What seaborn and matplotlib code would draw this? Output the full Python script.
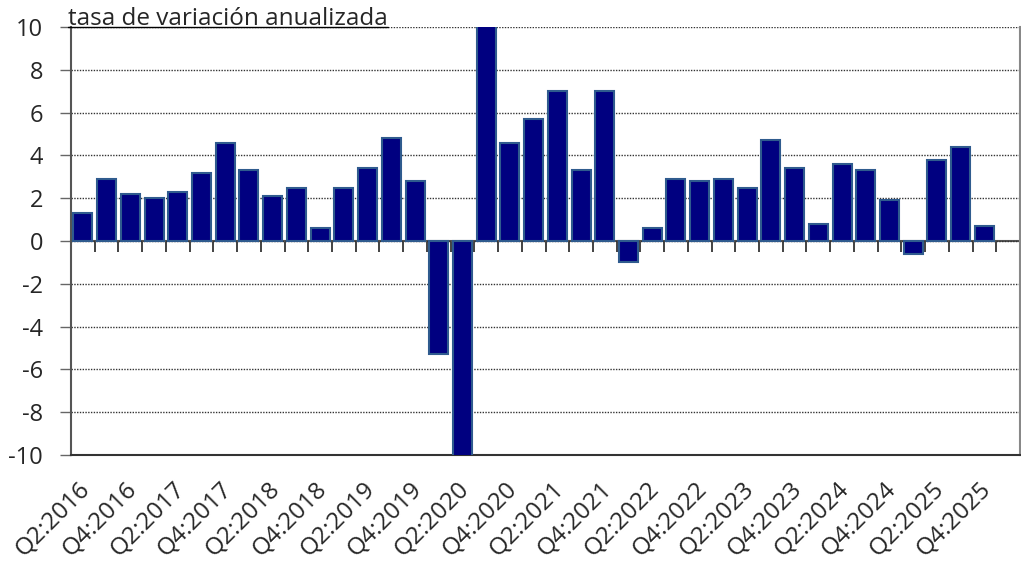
import numpy as np
import pandas as pd
import matplotlib
matplotlib.use('Agg')
import matplotlib.pyplot as plt
import matplotlib.transforms as mtransforms
from matplotlib.lines import Line2D
import seaborn as sns

# trimestres (la ultima casilla, Q1:2026, queda vacia)
quarters = ['Q2:2016', 'Q3:2016', 'Q4:2016', 'Q1:2017', 'Q2:2017', 'Q3:2017', 'Q4:2017',
            'Q1:2018', 'Q2:2018', 'Q3:2018', 'Q4:2018', 'Q1:2019', 'Q2:2019', 'Q3:2019',
            'Q4:2019', 'Q1:2020', 'Q2:2020', 'Q3:2020', 'Q4:2020', 'Q1:2021', 'Q2:2021',
            'Q3:2021', 'Q4:2021', 'Q1:2022', 'Q2:2022', 'Q3:2022', 'Q4:2022', 'Q1:2023',
            'Q2:2023', 'Q3:2023', 'Q4:2023', 'Q1:2024', 'Q2:2024', 'Q3:2024', 'Q4:2024',
            'Q1:2025', 'Q2:2025', 'Q3:2025', 'Q4:2025']
growth = [1.3, 2.9, 2.2, 2.0, 2.3, 3.2, 4.6, 3.3, 2.1, 2.5, 0.6, 2.5, 3.4, 4.8, 2.8,
          -5.3, -28.0, 34.8, 4.6, 5.7, 7.0, 3.3, 7.0, -1.0, 0.6, 2.9, 2.8, 2.9, 2.5,
          4.7, 3.4, 0.8, 3.6, 3.3, 1.9, -0.6, 3.8, 4.4, 0.7]
n_slots = 40
yticks = [-10, -8, -6, -4, -2, 0, 2, 4, 6, 8, 10]
ytick_labels = ['-10', '-8', '-6', '-4', '-2', '0', '2', '4', '6', '8', '10']
title = 'tasa de variación anualizada'

df = pd.DataFrame({'trimestre': quarters, 'tasa': growth})

sns.set_style('white')
plt.rcParams['font.family'] = ['Open Sans', 'DejaVu Sans']
plt.rcParams['axes.unicode_minus'] = False

fig = plt.figure(figsize=(10.21, 5.71), dpi=100)
ax = fig.add_axes([71/1021, 1-455/571, (1020-71)/1021, (455-27)/571])

sns.barplot(data=df, x='trimestre', y='tasa', color='#000080', saturation=1,
            edgecolor='#2f5b8e', linewidth=1.5, width=0.8, ax=ax, zorder=3)

ax.set_xlim(-0.5, n_slots - 0.5)
ax.set_ylim(-10, 10)
ax.set_xlabel('')
ax.set_ylabel('')

ax.set_yticks(yticks)
ax.set_yticklabels(ytick_labels, fontsize=17)
ax.yaxis.grid(True, linestyle=(0, (1, 1)), color='#333333', linewidth=1)
ax.tick_params(axis='y', left=True, length=8, width=1, color='#666666', pad=12)

ax.set_xticks(range(0, len(quarters), 2))
ax.set_xticklabels(quarters[::2], fontsize=17.5, rotation=45, ha='right', va='top',
                   rotation_mode='anchor')
ax.tick_params(axis='x', bottom=True, length=0, pad=16)
offset = mtransforms.ScaledTranslation(-5/100, 0, fig.dpi_scale_trans)
for lab in ax.get_xticklabels():
    lab.set_transform(lab.get_transform() + offset)

ax.spines['top'].set_visible(False)
ax.spines['left'].set_color('#555555')
ax.spines['left'].set_linewidth(1.5)
ax.spines['bottom'].set_color('#333333')
ax.spines['bottom'].set_linewidth(1.5)
ax.spines['right'].set_color('#888888')
ax.spines['right'].set_linewidth(1.5)

# linea del cero con marcas entre trimestres
secax = ax.secondary_xaxis(0.5)
secax.set_xticks(np.arange(-0.5, n_slots, 1))
secax.tick_params(direction='in', length=8, width=1.2, color='#222222',
                  labeltop=False, labelbottom=False)
secax.spines['top'].set_color('#555555')
secax.spines['top'].set_linewidth(1.5)

t = fig.text(68/1021, 1-25/571, title, fontsize=17.5, ha='left', va='baseline')
fig.canvas.draw()
bb = t.get_window_extent()
fig.add_artist(Line2D([bb.x0, bb.x1], [571-26.5, 571-26.5], transform=mtransforms.IdentityTransform(),
                      color='black', linewidth=1))

fig.savefig('out.png', dpi=100)
